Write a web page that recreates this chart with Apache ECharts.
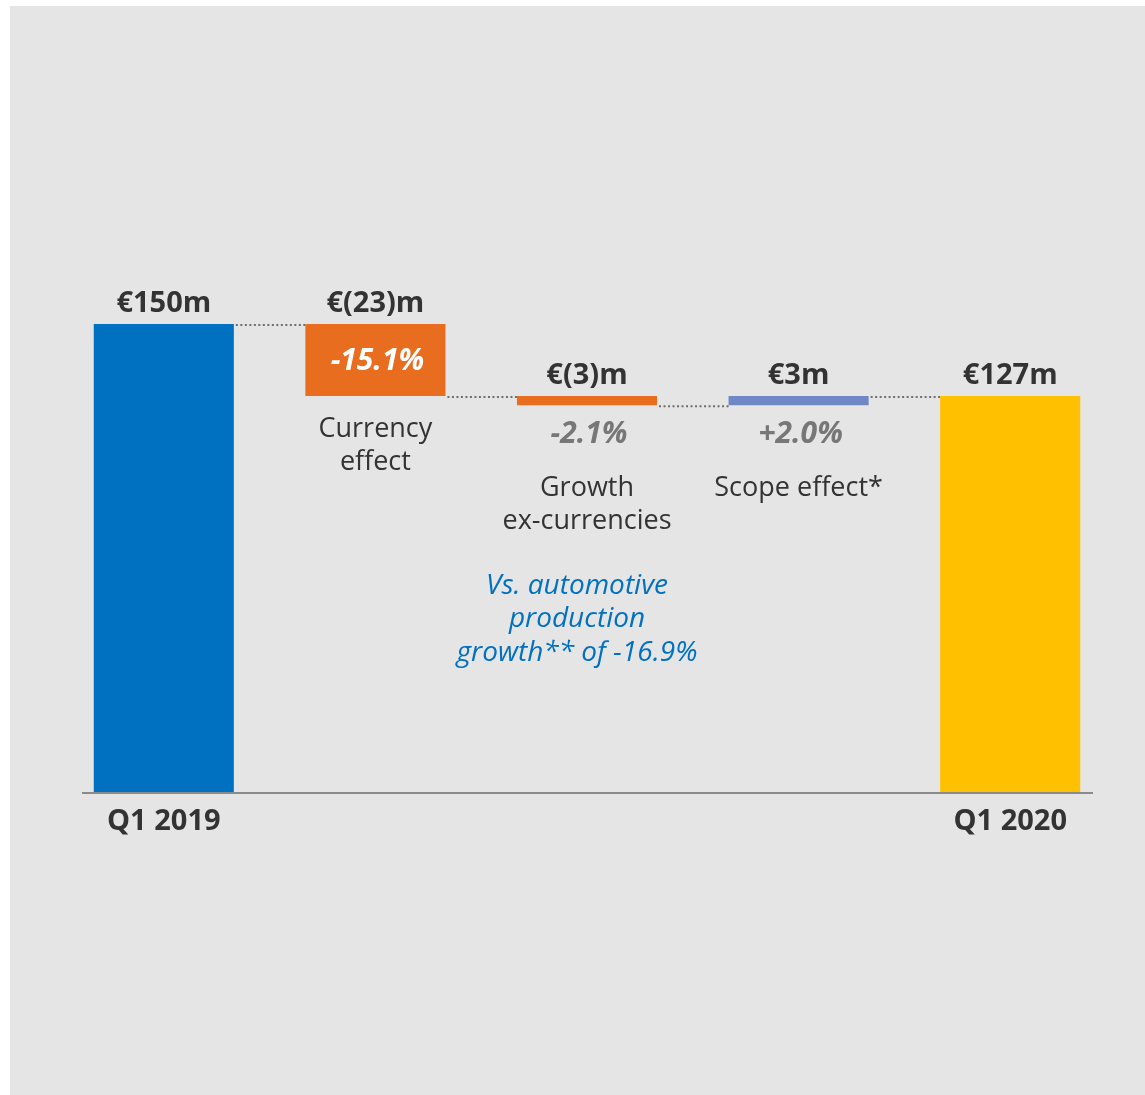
<!DOCTYPE html>
<html>
<head>
<meta charset="utf-8">
<script src="https://cdn.jsdelivr.net/npm/echarts@6/dist/echarts.min.js"></script>
<style>
  html, body { margin: 0; padding: 0; background: #ffffff; }
  #chart { width: 1145px; height: 1095px; }
</style>
</head>
<body>
<div id="chart"></div>
<script>
// ---- data ----
var categories = ['Q1 2019', 'Currency effect', 'Growth ex-currencies', 'Scope effect*', 'Q1 2020'];
var axisLabels = ['Q1 2019', '', '', '', 'Q1 2020'];
var values = [150, -23, -3, 3, 127];
var barKinds = ['total', 'delta', 'delta', 'delta', 'total'];
var valueLabels = ['€150m', '€(23)m', '€(3)m', '€3m', '€127m'];
var pctLabels = ['', '-15.1%', '-2.1%', '+2.0%', ''];
var nameLabels = ['', 'Currency\neffect', 'Growth\nex-currencies', 'Scope effect*', ''];
var barColors = ['#0070C0', '#E86D1F', '#E86D1F', '#6F87C5', '#FFC000'];
var noteText = 'Vs. automotive\nproduction\ngrowth** of -16.9%';

// build waterfall ranges
var running = 0;
var ranges = [];
for (var i = 0; i < values.length; i++) {
  if (barKinds[i] === 'total') {
    ranges.push([i, 0, values[i]]);
    running = values[i];
  } else {
    ranges.push([i, running, running + values[i]]);
    running = running + values[i];
  }
}
// connector levels: level after each bar except last
var connectors = [];
for (var j = 0; j < ranges.length - 1; j++) {
  connectors.push([j, ranges[j][2]]);
}

var FONT = '"Open Sans", "Noto Sans", sans-serif';
var DARK = '#333333';

var chart = echarts.init(document.getElementById('chart'));

var option = {
  backgroundColor: '#ffffff',
  animation: false,
  grid: { left: 58, right: 29, top: 324, bottom: 302 },
  xAxis: {
    type: 'category',
    data: axisLabels,
    axisLine: { show: false },
    axisTick: { show: false },
    axisLabel: {
      margin: 14,
      fontFamily: FONT,
      fontSize: 29,
      fontWeight: 'bold',
      color: DARK
    }
  },
  yAxis: {
    type: 'value',
    min: 0,
    max: 150,
    show: false,
    splitLine: { show: false }
  },
  graphic: [
    { type: 'rect', z: -10, shape: { x: 10, y: 6, width: 1135, height: 1089 }, style: { fill: '#E5E5E5' } },
    { type: 'line', z: 100, shape: { x1: 82, y1: 793, x2: 1093, y2: 793 }, style: { stroke: '#8A8A8A', lineWidth: 2 } },
    {
      type: 'text', z: 100, x: 577, y: 569,
      style: {
        text: noteText,
        fill: '#0070C0',
        font: 'italic 28px ' + FONT,
        align: 'center',
        verticalAlign: 'top',
        lineHeight: 33.5
      }
    }
  ],
  series: [
    {
      type: 'custom',
      name: 'connectors',
      data: connectors,
      clip: false,
      z: 1,
      renderItem: function (params, api) {
        var idx = api.value(0);
        var lvl = api.value(1);
        var a = api.coord([idx, lvl]);
        var b = api.coord([idx + 1, lvl]);
        var bw = api.size([1, 0])[0] * 0.662;
        return {
          type: 'line',
          shape: { x1: a[0] + bw / 2 + 2, y1: a[1] + 1, x2: b[0] - bw / 2, y2: b[1] + 1 },
          style: { stroke: '#6E6E6E', lineWidth: 2, lineDash: [2, 2.5] }
        };
      }
    },
    {
      type: 'custom',
      name: 'waterfall',
      data: ranges,
      clip: false,
      z: 2,
      renderItem: function (params, api) {
        var idx = api.value(0);
        var lo = Math.min(api.value(1), api.value(2));
        var hi = Math.max(api.value(1), api.value(2));
        var pTop = api.coord([idx, hi]);
        var pBot = api.coord([idx, lo]);
        var bw = api.size([1, 0])[0] * 0.662;
        var x = pTop[0] - bw / 2;
        var top = pTop[1];
        var h = pBot[1] - pTop[1];
        var cx = pTop[0];
        var bottom = pBot[1];
        var children = [
          { type: 'rect', shape: { x: x, y: top, width: bw, height: h }, style: { fill: barColors[idx] } },
          {
            type: 'text',
            style: {
              x: cx, y: top - 20, text: valueLabels[idx],
              font: 'bold 29px ' + FONT, fill: DARK,
              align: 'center', verticalAlign: 'middle'
            }
          }
        ];
        var pct = pctLabels[idx];
        var name = nameLabels[idx];
        var nameTop;
        if (pct) {
          if (h > 40) {
            children.push({
              type: 'text',
              style: {
                x: cx + 2, y: top + h / 2 + 1, text: pct,
                font: 'italic bold 30px ' + FONT, fill: '#FFFFFF',
                align: 'center', verticalAlign: 'middle'
              }
            });
            nameTop = bottom + 17;
          } else {
            children.push({
              type: 'text',
              style: {
                x: cx + 2, y: bottom + 29, text: pct,
                font: 'italic bold 30px ' + FONT, fill: '#777777',
                align: 'center', verticalAlign: 'middle'
              }
            });
            nameTop = bottom + 67;
          }
        }
        if (name) {
          children.push({
            type: 'text',
            style: {
              x: cx, y: nameTop, text: name,
              font: '27px ' + FONT, fill: DARK,
              align: 'center', verticalAlign: 'top', lineHeight: 33
            }
          });
        }
        return { type: 'group', children: children };
      }
    }
  ]
};

chart.setOption(option);
</script>
</body>
</html>
